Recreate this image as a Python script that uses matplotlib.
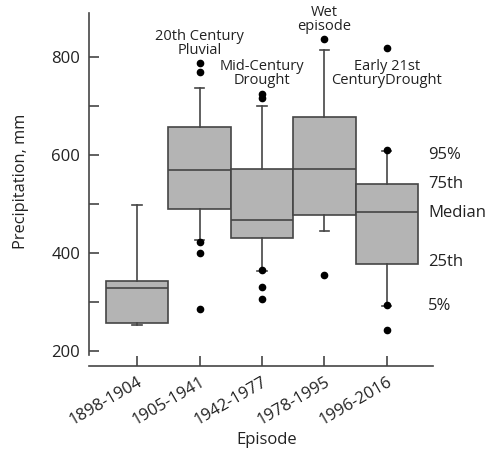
import matplotlib.pyplot as plt

plt.rcParams['font.family'] = ['Open Sans', 'DejaVu Sans']

episodes = ['1898-1904', '1905-1941', '1942-1977', '1978-1995', '1996-2016']
whislo = [253, 426, 363, 445, 292]
q1 = [257, 490, 431, 478, 378]
med = [329, 569, 467, 572, 484]
q3 = [342, 656, 572, 677, 541]
whishi = [498, 736, 700, 814, 608]
fliers = [
    [],
    [787, 769, 422, 399, 286],
    [725, 717, 364, 330, 305],
    [836, 354],
    [818, 609, 293, 243],
]
notes = ['', '20th Century\nPluvial', 'Mid-Century\nDrought', 'Wet\nepisode',
         'Early 21st\nCenturyDrought']
note_y = [0, 798, 737, 846, 737]
key_labels = ['95%', '75th', 'Median', '25th', '5%']
key_values = [599, 541, 482, 382, 292]

edge = '#454545'
txt = '#222222'
stats = []
for i in range(len(episodes)):
    stats.append(dict(whislo=whislo[i], q1=q1[i], med=med[i], q3=q3[i],
                      whishi=whishi[i], fliers=fliers[i], label=episodes[i]))

fig = plt.figure(figsize=(4.87, 4.58), dpi=100)
ax = fig.add_axes([0.183, 0.201, 0.706, 0.771])
pos = list(range(len(episodes)))
ax.bxp(stats, positions=pos, widths=1.0, capwidths=0.15, patch_artist=True,
       boxprops=dict(facecolor='#b4b4b4', edgecolor=edge, linewidth=1.2),
       medianprops=dict(color=edge, linewidth=1.2),
       whiskerprops=dict(color=edge, linewidth=1.2),
       capprops=dict(color=edge, linewidth=1.2),
       flierprops=dict(marker='o', markerfacecolor='black', markeredgecolor='black',
                       markersize=4.5))

for i, t in enumerate(notes):
    if t:
        ax.text(pos[i], note_y[i], t, ha='center', va='bottom', fontsize=10.5,
                linespacing=0.9, color=txt)

for lab, v in zip(key_labels, key_values):
    ax.text(4.66, v, lab, ha='left', va='center', fontsize=12, color=txt,
            clip_on=False)

ax.set_xlim(-0.77, 4.74)
ax.set_ylim(169, 890)
ax.set_yticks([200, 300, 400, 500, 600, 700, 800])
ax.set_yticklabels(['200', '', '400', '', '600', '', '800'])
ax.set_xticks(pos)
ax.set_xticklabels(episodes, rotation=30, ha='right', rotation_mode='anchor')
ax.tick_params(direction='in', length=7, width=1.2, color=edge, labelsize=12,
               labelcolor=txt)
ax.tick_params(axis='x', pad=6)
ax.tick_params(axis='y', pad=6.5)
ax.spines['top'].set_visible(False)
ax.spines['right'].set_visible(False)
for s in ['left', 'bottom']:
    ax.spines[s].set_color(edge)
    ax.spines[s].set_linewidth(1.2)
ax.spines['left'].set_bounds(191, 890)
ax.set_ylabel('Precipitation, mm', fontsize=11.8, color=txt)
ax.set_xlabel('Episode', fontsize=12, color=txt)
ax.yaxis.set_label_coords(-0.174, 0.524)
ax.xaxis.set_label_coords(0.517, -0.187)

fig.savefig('out.png', dpi=100)
